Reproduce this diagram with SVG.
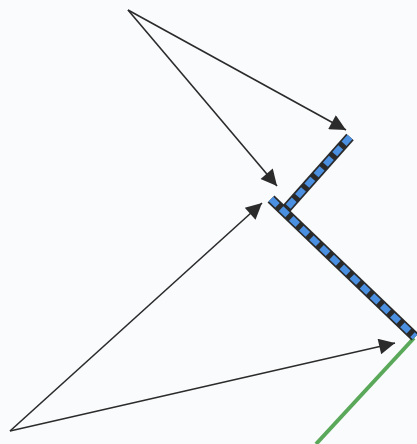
<svg xmlns="http://www.w3.org/2000/svg" width="417" height="444" viewBox="0 0 417 444">
<defs>
<style>
.conn{stroke:#2b2b2b;stroke-width:1.6;fill:none}
.wallo{stroke:#2a2a2a;stroke-width:10;fill:none;stroke-linecap:butt}
.walli{stroke:#4a8fe0;stroke-width:6.5;fill:none;stroke-dasharray:9 5}
.green{stroke:#5aa85a;stroke-width:4;fill:none}
</style>
<marker id="ah" viewBox="0 0 10 10" refX="10" refY="5" markerWidth="18" markerHeight="16" markerUnits="userSpaceOnUse" orient="auto">
<path d="M0,0 L10,5 L0,10 z" fill="#2b2b2b"/>
</marker>
</defs>
<rect width="417" height="444" fill="#fafbfd"/>
<g id="wall">
<line class="green" x1="414" y1="338" x2="316" y2="444"/>
<line class="wallo" x1="350" y1="137" x2="286" y2="209"/>
<line class="walli" x1="350" y1="137" x2="286" y2="209"/>
<line class="wallo" x1="271" y1="199" x2="415" y2="337"/>
<line class="walli" x1="271" y1="199" x2="415" y2="337"/>
</g>
<g id="connectors">
<line class="conn" x1="128" y1="10" x2="346" y2="130" marker-end="url(#ah)"/>
<line class="conn" x1="128" y1="10" x2="277" y2="186" marker-end="url(#ah)"/>
<line class="conn" x1="10" y1="431" x2="262" y2="203" marker-end="url(#ah)"/>
<line class="conn" x1="10" y1="431" x2="395" y2="343" marker-end="url(#ah)"/>
</g>
</svg>
